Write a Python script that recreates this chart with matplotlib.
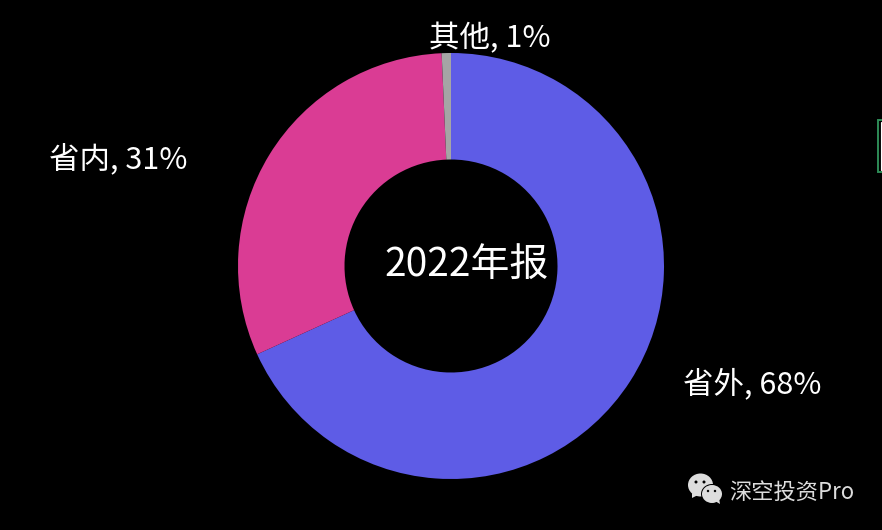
import matplotlib
matplotlib.use("Agg")
import matplotlib.pyplot as plt
from matplotlib.patches import Ellipse, Polygon, Rectangle

categories = ["省外", "省内", "其他"]
values = [68.2, 31.1, 0.7]
display_pct = ["68%", "31%", "1%"]
colors = ["#5E5CE6", "#DA3C94", "#A5A5A5"]
center_label = "2022年报"
watermark = "深空投资Pro"

W, H = 882, 530
plt.rcParams["font.family"] = ["Noto Sans CJK SC", "DejaVu Sans"]
fig = plt.figure(figsize=(W / 100, H / 100), dpi=100, facecolor="black")

cx, cy, R = 451, 266, 213
ax = fig.add_axes([(cx - R) / W, 1 - (cy + R) / H, 2 * R / W, 2 * R / H])
ax.pie(values, colors=colors, startangle=90, counterclock=False, radius=1,
       wedgeprops=dict(width=0.5, linewidth=0))
ax.set_xlim(-1, 1)
ax.set_ylim(-1, 1)
ax.set_aspect("equal")
ax.axis("off")
ax.text(0.075, 0.0, center_label, color="white", fontsize=28, ha="center", va="center")

label_pos = [(752, 384), (118, 159), (490, 39)]
for cat, pct, (px, py) in zip(categories, display_pct, label_pos):
    fig.text(px / W, 1 - py / H, f"{cat}, {pct}", color="white", fontsize=22,
             ha="center", va="center")

fig.text(791.5 / W, 1 - 493 / H, watermark, color="#DDDDDD", fontsize=16,
         ha="center", va="center")

# overlay in pixel coordinates: WeChat mark and the sliver at the right edge
ov = fig.add_axes([0, 0, 1, 1], facecolor="none")
ov.set_xlim(0, W)
ov.set_ylim(H, 0)
ov.axis("off")
g = "#DDDDDD"
ov.add_patch(Ellipse((700.5, 485), 25, 23, color=g, lw=0))
ov.add_patch(Polygon([(692, 493), (692, 498), (698, 495)], color=g, lw=0))
ov.add_patch(Ellipse((712, 494), 22, 20, color="black", lw=0))
ov.add_patch(Ellipse((712, 494), 20, 18, color=g, lw=0))
ov.add_patch(Polygon([(715, 501), (720, 504), (719, 498)], color=g, lw=0))
for x, y, r in [(696, 482, 3), (704, 482, 3), (708, 491, 2.4), (715, 491, 2.4)]:
    ov.add_patch(Ellipse((x, y), r, r, color="black", lw=0))
ov.add_patch(Rectangle((878, 119.5), 6, 52, facecolor="black", edgecolor="#2E8B57", lw=1.4))
ov.add_patch(Rectangle((880.5, 121.5), 4, 48, facecolor="black", edgecolor="white", lw=0.8))

fig.savefig("out.png", dpi=100, facecolor="black")
